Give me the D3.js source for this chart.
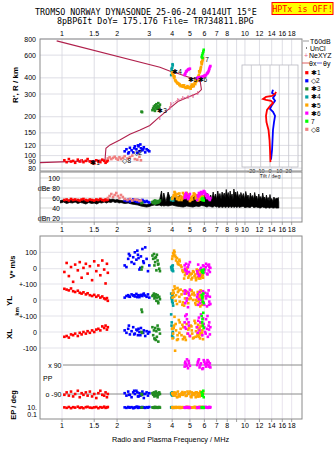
<!DOCTYPE html>
<html>
<head>
<meta charset="utf-8">
<script src="https://cdn.jsdelivr.net/npm/d3@7"></script>
<style>
body { margin: 0; background: #fff; }
text { font-family: "Liberation Sans", Arial, sans-serif; }
.mono { font-family: "DejaVu Sans Mono", monospace; }
</style>
</head>
<body>
<div id="root"></div>
<script>
// tick sets
var freqTop = [1, 1.5, 2, 3, 4, 5, 6, 7, 8, 10, 12, 14, 16, 18];
var freqMid = [1, 1.5, 2, 3, 4, 5, 6, 7, 8, 9, 10, 12, 14, 16, 18];
var freqBottom = [1, 1.5, 2, 3, 4, 5, 6, 7, 8, 10, 12, 14, 16, 18];
var heightTicks = [80, 90, 100, 120, 150, 200, 300, 400, 600, 800];
var dbTicks = [100, 80, 60, 40, 20];
var dbTickLabels = ["100", "dBe 80", "60", "40", "dBn 20"];
var tiltTicks = [-20, -10, 0, 10, 20];

// true height profile [MHz, km]
var profile = [[0.758, 88.3], [1.078, 89.8], [1.4, 91], [1.718, 92.6], [1.738, 114], [1.83, 121],
  [2.07, 132], [2.35, 146.6], [2.67, 158], [3.02, 171], [3.35, 195], [3.89, 233], [4.3, 262],
  [4.88, 283], [5.53, 305], [5.78, 325], [5.7, 372], [5.3, 392], [4.8, 410], [4.3, 432],
  [4.0, 445], [3.43, 484], [0.935, 774]];
var neXYZ = [[1.28, 91.5], [3.43, 195], [3.89, 233], [3.94, 249], [4.3, 270], [4.58, 279],
  [4.88, 286], [5.2, 290], [5.53, 305]];

// tilt inset [km, deg]
var thetaX = [[89, 0.5], [111, 0], [132, -0.5], [158, -1.6], [182, -3.8], [203, -4.3], [226, -3.2],
  [242, 0], [256, 3.2], [266, 1.1], [270, -4.3], [275, -7.5], [285, -4.3], [290, 2.2], [301, 5.4], [312, 6.5]];
var thetaY = [[93, 1.1], [111, 2.2], [132, 2.7], [158, 3.2], [182, 4.3], [203, 5.4], [218, 3.2],
  [230, 0], [247, 2.2], [266, 5.4], [280, 3.2], [295, 5.4], [306, 2.2], [323, 3.2]];

// echoes: [f MHz, R km, dB, V* m/s, YL km, XL km, PP deg, EP deg]
var echo1 = [[1.03,92,56,-20,70,-30,-95,8],[1.06,89,57,35,65,-25,-80,6],[1.09,94,55,-45,60,-35,-100,10],
  [1.12,90,58,10,72,-15,-75,5],[1.15,91,56,-80,55,-20,-105,9],[1.18,88,57,25,50,-10,-90,7],
  [1.22,93,56,-10,58,-25,-70,12],[1.25,90,55,40,45,-5,-110,6],[1.28,92,57,-55,40,-15,-85,8],
  [1.31,89,58,5,48,0,-95,5],[1.35,91,56,30,35,-10,-80,9],[1.38,94,55,-30,42,5,-100,11],
  [1.42,90,57,15,30,-5,-75,7],[1.46,88,56,-70,25,10,-105,6],[1.5,87,55,45,32,0,-90,8],
  [1.54,92,57,-15,20,15,-115,10],[1.58,90,56,20,28,20,-85,5],[1.62,89,58,-40,15,10,-70,9],
  [1.66,93,56,50,22,35,-95,7],[1.7,91,55,-5,10,25,-100,12],[1.73,88,57,-90,5,40,-80,6],
  [1.76,90,56,30,12,15,-110,8],[1.78,92,57,-25,-5,30,-90,10]];
var echo2 = [[2.2,108,55,20,15,10,-85,8],[2.25,112,54,10,25,-5,-100,6],[2.3,104,56,60,30,20,-75,10],
  [2.35,115,53,80,20,-15,-95,7],[2.4,110,55,40,35,5,-110,9],[2.45,106,57,70,28,30,-80,5],
  [2.5,118,54,100,22,-10,-90,8],[2.55,112,53,55,38,15,-70,11],[2.6,120,52,85,30,-20,-105,6],
  [2.65,108,55,-5,18,0,-85,9],[2.7,114,54,75,32,25,-95,7],[2.75,110,56,120,25,-5,-75,10],
  [2.8,116,53,35,40,10,-115,8],[2.85,106,52,130,28,-25,-90,6],[2.9,112,54,60,20,5,-80,9],
  [2.95,110,52,-15,35,-10,-100,7],[3.0,108,51,20,15,0,-85,10],[2.32,106,56,90,22,40,-95,8],
  [2.48,114,55,30,30,-15,-70,6],[2.62,118,53,65,26,20,-105,9],[2.78,112,54,45,34,-5,-90,7],
  [2.58,105,56,110,18,10,-80,11],[2.68,122,52,5,28,-20,-100,8]];
var echo3 = [[3.12,225,52,80,25,30,-85,8],[3.15,232,50,60,30,-20,-95,7],[3.18,240,54,90,40,10,-80,9],
  [3.2,228,51,20,10,-40,-105,6],[3.23,245,55,40,20,25,-90,10],[3.26,236,53,70,35,-50,-75,8],
  [3.28,250,50,-10,-5,5,-100,7],[3.3,230,52,85,15,-30,-85,9],[3.33,242,54,50,30,40,-110,6],
  [3.36,255,51,30,-20,-60,-95,8],[3.4,238,53,0,20,15,-80,10],[3.43,248,55,-15,5,-10,-90,7],
  [3.22,222,49,65,25,-45,-100,9],[3.35,234,52,25,-10,20,-85,8],[2.72,219,50,-5,-60,0,-90,7],
  [2.74,217,51,10,-75,-5,-95,8]];
var echo4 = [[3.95,420,56,10,40,110,-85,8],[3.98,450,58,-5,20,60,-95,7],[4.0,480,60,15,-10,20,-80,9],
  [4.02,510,57,0,30,-10,-100,8],[4.05,440,55,-15,-35,-35,-90,6],[3.97,470,59,5,10,40,-88,9],
  [4.03,500,61,20,-20,0,-92,7],[4.0,430,57,-10,0,-25,-96,8]];
var echo5 = [[4.0,440,58,60,40,20,-85,8],[4.05,420,62,95,60,-10,-95,6],[4.1,400,66,110,20,40,-80,9],
  [4.15,385,70,80,70,-117,-100,7],[4.2,375,64,50,30,10,-90,10],[4.3,362,68,30,50,-45,-75,8],
  [4.4,355,60,45,-10,60,-105,6],[4.5,348,56,10,35,-20,-85,9],[4.6,342,62,-20,55,30,-95,7],
  [4.7,338,66,-40,10,-35,-80,8],[4.8,336,70,-5,45,50,-100,10],[4.9,337,58,-55,-20,15,-90,6],
  [5.0,340,54,-30,25,-25,-75,9],[5.1,345,60,-65,60,35,-110,7],[5.2,352,64,-15,0,-40,-85,8],
  [5.3,362,68,-45,30,70,-95,10],[5.4,372,62,-70,-30,5,-80,6],[5.5,390,58,-25,15,-15,-100,9],
  [5.55,405,55,-50,40,45,-90,7],[5.6,420,60,-10,-15,-30,-85,8],[5.65,440,64,-35,20,25,-105,10],
  [5.7,460,57,-60,-40,-5,-75,6],[5.75,485,62,-20,5,55,-95,9],[5.8,510,66,-45,35,-20,-85,7],
  [5.85,540,59,-30,-10,10,-100,8],[5.9,570,63,-55,25,-45,-80,9],[4.12,410,72,100,85,95,-90,7],
  [4.25,368,58,65,-25,-50,-110,9],[4.45,345,63,20,65,20,-95,6],[4.65,350,67,-60,-35,-30,-85,8],
  [4.85,345,61,5,50,-10,-75,10],[5.05,330,56,-35,10,40,-105,7],[5.25,345,69,-20,45,-35,-90,9],
  [5.45,380,65,-5,-5,30,-80,6],[5.62,450,61,-40,30,-15,-100,8],[5.78,530,58,-25,55,60,-90,7],
  [4.02,430,60,75,15,-40,-88,7],[4.08,412,65,85,45,25,-98,9],[4.18,380,67,70,-5,50,-82,6],
  [4.28,364,61,40,75,-20,-108,8],[4.38,352,69,55,20,-5,-92,10],[4.55,344,59,-10,-30,45,-78,7],
  [4.75,334,63,-25,40,-50,-102,9],[4.95,334,67,-45,5,25,-86,6],[5.15,342,57,-55,35,-10,-96,8],
  [5.35,358,66,-35,-20,55,-84,10],[5.52,398,60,-15,50,-25,-106,7],[5.58,412,63,-60,-5,15,-88,9],
  [5.68,450,59,-30,25,-40,-98,6],[5.72,472,65,-50,60,35,-82,8],[5.82,520,61,-15,-30,-5,-94,10],
  [5.88,555,57,-40,10,40,-86,7],[4.35,360,56,25,60,75,-100,8],[4.58,350,70,-15,-15,-45,-90,9],
  [5.12,355,62,-30,55,10,-80,7],[5.38,380,59,-55,0,-30,-110,8]];
var echo6 = [[4.68,421,60,20,40,60,80,8],[4.72,432,66,-10,-20,100,110,6],[4.76,446,70,30,55,20,95,9],
  [4.82,455,62,-30,10,80,125,7],[4.88,462,58,10,-45,-10,70,8],[4.94,468,64,-20,30,40,100,10],
  [5.0,471,68,40,65,-25,85,6],[5.48,398,56,-15,20,30,90,8],[5.55,402,62,25,-30,70,115,7],
  [5.65,404,66,-40,50,10,75,9],[5.75,406,72,5,0,110,100,8],[5.85,408,68,-25,35,-20,65,6],
  [5.95,412,74,15,-15,50,120,10],[6.05,418,70,-5,45,0,95,7],[6.13,421,64,30,10,80,80,9],
  [6.2,432,60,-30,-40,20,105,8],[6.27,440,66,20,25,-30,90,6],[6.33,450,62,-10,60,40,110,8],
  [6.38,471,58,10,-10,60,85,10],[6.43,485,56,-20,20,-15,100,7],[6.47,494,60,5,-25,30,75,9],
  [5.6,403,70,-45,5,90,125,8],[4.7,426,63,0,60,30,100,7],[4.8,450,67,-15,-5,110,85,9],
  [4.92,466,61,25,45,60,115,8],[5.52,400,65,-30,35,-5,105,6],[5.7,405,69,-5,-20,60,90,9],
  [5.9,410,71,20,55,85,70,7],[6.0,415,73,-20,-30,30,110,8],[6.1,420,67,10,25,-10,95,10],
  [6.24,436,63,-35,40,100,120,7],[6.36,460,59,25,-30,15,80,9]];
var echo7 = [[5.8,580,58,-10,30,100,-80,8],[5.84,600,56,-20,10,60,-100,7],[5.88,620,60,-15,-10,40,-90,9],
  [5.92,640,57,-25,40,120,-70,8],[5.95,660,55,-5,-20,25,-110,6],[5.86,570,59,-18,20,80,-95,8]];
// echo 8: [f, R, dB] only
var echo8 = [[1.78,95,60],[1.82,97,64],[1.86,94,68],[1.9,96,62],[1.94,98,66],[1.98,95,70],[2.02,93,64],
  [2.06,97,60],[2.1,94,66],[2.15,96,62],[2.2,99,58],[2.28,95,56],[2.35,97,58],[2.42,100,55],
  [2.5,94,57],[2.58,93,56],[2.65,98,54],[2.7,92,55]];

// echo centroid labels [text, f, R]
var echoMarks = [["\u27311", 1.515, 87.8], ["\u25C72", 2.6, 105], ["\u27313", 3.52, 222], ["\u27314", 4.25, 449],
  ["\u27315", 5.16, 389], ["\u27316", 5.85, 389], ["7", 6.2, 558], ["\u25C78", 2.26, 91]];

// received amplitude [f, low dB, high dB]
var amplitude = [[0.98,50,55],[1.02,52,56],[1.06,49,54],[1.1,51,56],[1.14,50,55],[1.18,52,57],[1.22,49,54],
  [1.26,51,55],[1.3,50,56],[1.35,48,54],[1.4,51,56],[1.45,49,55],[1.5,50,54],[1.55,48,55],[1.6,51,56],
  [1.65,50,54],[1.7,52,57],[1.75,50,56],[1.8,52,58],[1.85,51,57],[1.9,53,58],[1.95,51,56],[2.0,52,57],
  [2.05,50,56],[2.1,51,55],[2.2,49,54],[2.3,50,55],[2.4,48,53],[2.5,47,53],[2.6,46,52],[2.7,44,50],
  [2.8,43,48],[2.9,42,47],[3.0,43,48],[3.1,45,50],[3.2,46,51],[3.3,45,52],[3.4,46,53],[3.5,44,74],
  [3.55,45,52],[3.6,44,70],[3.7,45,52],[3.8,44,72],[3.9,45,60],[4.0,46,62],[4.2,44,60],[4.4,43,65],
  [4.6,42,62],[4.8,44,66],[5.0,43,60],[5.2,42,64],[5.4,44,62],[5.6,43,65],[5.8,45,63],[6.0,44,66],
  [6.2,42,70],[6.35,44,58],[6.5,43,66],[6.6,42,56],[6.7,42,72],[6.8,44,60],[6.9,43,68],[7.0,42,57],
  [7.1,43,74],[7.2,41,62],[7.3,42,69],[7.4,43,58],[7.5,41,72],[7.6,42,63],[7.7,43,70],[7.8,41,60],
  [7.9,42,77],[8.0,43,64],[8.1,41,71],[8.2,42,59],[8.3,43,74],[8.4,41,62],[8.5,42,68],[8.6,43,57],
  [8.7,41,78],[8.8,42,66],[8.9,43,72],[9.0,41,61],[9.1,42,73],[9.2,43,60],[9.3,41,67],[9.4,42,58],
  [9.5,42,71],[9.65,43,62],[9.8,43,69],[9.95,41,58],[10.1,41,73],[10.25,42,62],[10.4,42,66],[10.55,41,56],
  [10.7,41,70],[10.85,43,61],[11.0,43,65],[11.15,41,57],[11.3,41,71],[11.45,42,60],[11.6,42,64],
  [11.75,41,55],[11.9,41,68],[12.05,40,58],[12.2,40,63],[12.35,42,56],[12.5,42,70],[12.65,41,60],
  [12.8,41,62],[12.95,40,55],[13.1,40,66],[13.25,41,57],[13.4,41,61],[13.55,40,54],[13.7,40,67],
  [13.85,41,56],[14.0,41,59],[14.2,40,53],[14.4,40,62],[14.6,41,56],[14.8,40,60],[15.0,40,58],
  [15.2,40,61],[15.3,40,52]];

var echoTypes = [
  {data: echo1, color: "#ff0000", label: "\u27311"},
  {data: echo2, color: "#0000ff", label: "\u25C72"},
  {data: echo3, color: "#228b22", label: "\u27313"},
  {data: echo4, color: "#00a0a0", label: "\u27314"},
  {data: echo5, color: "#ffa500", label: "\u27315"},
  {data: echo6, color: "#ff00ff", label: "\u27316"},
  {data: echo7, color: "#00ff00", label: " 7"},
  {data: echo8, color: "#f08080", label: "\u25C78"}
];

var svg = d3.select("#root").append("svg")
    .attr("width", 335)
    .attr("height", 451);

var L = 40, R = 302;
var x = d3.scaleLog().domain([0.758, 20.5]).range([L, R]);
var yH = d3.scaleLog().domain([76, 800]).range([171, 39]);
var yDB = d3.scaleLinear().domain([12, 112]).range([222, 172]);
var yV = d3.scaleLinear().domain([-100, 100]).range([285.1, 252.3]);
var yYL = d3.scaleLinear().domain([-100, 100]).range([316, 284]);
var yXL = d3.scaleLinear().domain([-100, 100]).range([348, 316]);
var yPP = d3.scaleLinear().domain([-90, 90]).range([394, 365]);
var yEP = d3.scaleLog().domain([0.1, 10]).range([414.7, 407]);
var xT = d3.scaleLinear().domain([-30, 30]).range([242, 298]);

var gridCol = "#d6d6de", frameCol = "#8a8a8a";
var dot = 2.6;

// ---------- header ----------
svg.append("text").attr("class", "mono").attr("x", 35).attr("y", 15)
    .attr("font-size", 8.4).text("TROMSO NORWAY   DYNASONDE 25-06-24 0414UT 15\u00B0E");
svg.append("text").attr("class", "mono").attr("x", 57).attr("y", 23.5)
    .attr("font-size", 8.4).text("8pBP6It DoY= 175.176 File= TR734811.BPG");
svg.append("rect").attr("x", 272).attr("y", 2.5).attr("width", 61).attr("height", 12)
    .attr("fill", "#ffff00").attr("stroke", "#ff0000").attr("stroke-width", 1);
svg.append("text").attr("class", "mono").attr("x", 302.5).attr("y", 11.8)
    .attr("text-anchor", "middle").attr("fill", "#ff0000").attr("font-size", 8.4).text("HPTx is OFF!");

// ---------- frequency labels ----------
function freqLabels(ticks, yy) {
    svg.append("g").selectAll("text").data(ticks).enter().append("text")
        .attr("x", function(d) { return x(d); })
        .attr("y", yy)
        .attr("text-anchor", "middle")
        .attr("dominant-baseline", "central")
        .attr("font-size", 7)
        .text(function(d) { return d; });
}
freqLabels(freqTop, 33);
freqLabels(freqMid, 229);
freqLabels(freqBottom, 425.5);
svg.append("text").attr("x", 170.5).attr("y", 439).attr("text-anchor", "middle")
    .attr("dominant-baseline", "central").attr("font-size", 7.3)
    .text("Radio and Plasma Frequency / MHz");

function vGrid(y0, y1, col) {
    svg.append("g").selectAll("line").data(freqMid).enter().append("line")
        .attr("x1", function(d) { return x(d); }).attr("x2", function(d) { return x(d); })
        .attr("y1", y0).attr("y2", y1)
        .attr("stroke", col).attr("stroke-width", 0.8);
}
function freqTicks(yy, dir) {
    svg.append("g").selectAll("line").data(freqMid).enter().append("line")
        .attr("x1", function(d) { return x(d); }).attr("x2", function(d) { return x(d); })
        .attr("y1", yy).attr("y2", yy + dir * 3)
        .attr("stroke", frameCol).attr("stroke-width", 0.8);
}
function dots(data, col, yScale, colour) {
    svg.append("g").selectAll("rect").data(data).enter().append("rect")
        .attr("x", function(d) { return x(d[0]) - dot / 2; })
        .attr("y", function(d) { return yScale(d[col]) - dot / 2; })
        .attr("width", dot).attr("height", dot)
        .attr("fill", colour);
}

// ---------- height panel ----------
vGrid(39, 171, gridCol);
svg.append("g").selectAll("line").data(heightTicks).enter().append("line")
    .attr("x1", L).attr("x2", R)
    .attr("y1", function(d) { return yH(d); }).attr("y2", function(d) { return yH(d); })
    .attr("stroke", gridCol).attr("stroke-width", 0.8);
svg.append("g").selectAll("text").data(heightTicks).enter().append("text")
    .attr("x", 36).attr("y", function(d) { return yH(d); })
    .attr("text-anchor", "end").attr("dominant-baseline", "central")
    .attr("font-size", 7).text(function(d) { return d; });
svg.append("text").attr("transform", "translate(15,85) rotate(-90)")
    .attr("text-anchor", "middle").attr("dominant-baseline", "central")
    .attr("font-size", 8).attr("font-weight", "bold").text("R', R / km");

// tilt inset
svg.append("rect").attr("x", 242).attr("y", 65).attr("width", 56).attr("height", 102)
    .attr("fill", "#fff").attr("stroke", "#b8b8c0").attr("stroke-width", 0.8);
svg.append("g").selectAll("line").data(heightTicks.filter(function(d) { return yH(d) > 65 && yH(d) < 167; }))
    .enter().append("line")
    .attr("x1", 242).attr("x2", 298)
    .attr("y1", function(d) { return yH(d); }).attr("y2", function(d) { return yH(d); })
    .attr("stroke", gridCol).attr("stroke-width", 0.8);
svg.append("g").selectAll("line").data(tiltTicks).enter().append("line")
    .attr("x1", function(d) { return xT(d); }).attr("x2", function(d) { return xT(d); })
    .attr("y1", 65).attr("y2", 167)
    .attr("stroke", "#c4c4cc").attr("stroke-width", 0.8);
svg.append("g").selectAll("text").data(tiltTicks).enter().append("text")
    .attr("x", function(d) { return xT(d); }).attr("y", 170.5)
    .attr("text-anchor", "middle").attr("dominant-baseline", "central")
    .attr("font-size", 5.5).text(function(d) { return d; });
svg.append("text").attr("x", 270).attr("y", 175.5).attr("text-anchor", "middle")
    .attr("dominant-baseline", "central").attr("font-size", 5.5).text("Tilt / deg");

var tiltLine = d3.line()
    .x(function(d) { return xT(d[1]); })
    .y(function(d) { return yH(d[0]); });
svg.append("path").datum(thetaY).attr("d", tiltLine)
    .attr("fill", "none").attr("stroke", "#0000ff").attr("stroke-width", 1.8);
svg.append("path").datum(thetaX).attr("d", tiltLine)
    .attr("fill", "none").attr("stroke", "#ff0000").attr("stroke-width", 1.8);

svg.append("rect").attr("x", L).attr("y", 39).attr("width", R - L).attr("height", 132)
    .attr("fill", "none").attr("stroke", frameCol).attr("stroke-width", 1);

// profile
var profLine = d3.line()
    .x(function(d) { return x(d[0]); })
    .y(function(d) { return yH(d[1]); });
svg.append("path").datum(profile).attr("d", profLine)
    .attr("fill", "none").attr("stroke", "#b0204c").attr("stroke-width", 1.1);

// echoes in height panel
echoTypes.forEach(function(t) { dots(t.data, 1, yH, t.color); });

// NeXYZ
svg.append("path").datum(neXYZ.slice(2)).attr("d", profLine)
    .attr("fill", "none").attr("stroke", "#e0608c").attr("stroke-width", 0.9)
    .attr("stroke-dasharray", "2,1");
svg.append("g").selectAll("text").data(neXYZ).enter().append("text")
    .attr("x", function(d) { return x(d[0]); })
    .attr("y", function(d) { return yH(d[1]); })
    .attr("text-anchor", "middle").attr("dominant-baseline", "central")
    .attr("font-size", 6).attr("fill", "#e0608c").attr("font-weight", "bold")
    .text("I");

svg.append("g").selectAll("text").data(echoMarks).enter().append("text")
    .attr("x", function(d) { return x(d[1]); })
    .attr("y", function(d) { return yH(d[2]); })
    .attr("text-anchor", "middle").attr("dominant-baseline", "central")
    .attr("font-size", 6.5).attr("font-family", "DejaVu Sans")
    .text(function(d) { return d[0]; });

// legend
var lg = svg.append("g").attr("font-size", 7);
lg.append("line").attr("x1", 303).attr("x2", 309).attr("y1", 41).attr("y2", 41).attr("stroke", "#999");
lg.append("text").attr("x", 310).attr("y", 41).attr("dominant-baseline", "central").text("T60dB");
lg.append("rect").attr("x", 306).attr("y", 47.5).attr("width", 1).attr("height", 1).attr("fill", "#000");
lg.append("text").attr("x", 310).attr("y", 48).attr("dominant-baseline", "central").text("UnCl");
lg.append("text").attr("x", 306).attr("y", 55).attr("text-anchor", "middle").attr("dominant-baseline", "central")
    .attr("fill", "#e0608c").text("+");
lg.append("text").attr("x", 309).attr("y", 55).attr("dominant-baseline", "central").text("NeXYZ");
lg.append("line").attr("x1", 302).attr("x2", 309).attr("y1", 63).attr("y2", 63).attr("stroke", "#e06060");
lg.append("text").attr("x", 309).attr("y", 63).attr("dominant-baseline", "central").text("\u03B8x");
lg.append("line").attr("x1", 317).attr("x2", 322).attr("y1", 63).attr("y2", 63).attr("stroke", "#6060e0");
lg.append("text").attr("x", 323).attr("y", 63).attr("dominant-baseline", "central").text("\u03B8y");
var legendY = d3.scaleLinear().domain([0, 7]).range([72.7, 129.3]);
echoTypes.forEach(function(t, i) {
    lg.append("rect").attr("x", 305.2).attr("y", legendY(i) - 1.6).attr("width", 3.2).attr("height", 3.2)
        .attr("fill", t.color);
    lg.append("text").attr("x", 311).attr("y", legendY(i)).attr("dominant-baseline", "central")
        .attr("font-family", "DejaVu Sans").attr("font-size", 6.5).text(t.label);
});

// ---------- dB panel ----------
vGrid(172, 222, gridCol);
svg.append("g").selectAll("line").data(dbTicks).enter().append("line")
    .attr("x1", L).attr("x2", R)
    .attr("y1", function(d) { return yDB(d); }).attr("y2", function(d) { return yDB(d); })
    .attr("stroke", function(d) { return d == 20 ? "#c8c8e8" : "#c8c8c8"; }).attr("stroke-width", 0.8);
svg.append("g").selectAll("text").data(dbTicks).enter().append("text")
    .attr("x", 60).attr("y", function(d) { return yDB(d); })
    .attr("text-anchor", "end").attr("dominant-baseline", "central")
    .attr("font-size", 7).text(function(d, i) { return dbTickLabels[i]; });

var ampArea = d3.area()
    .x(function(d) { return x(d[0]); })
    .y0(function(d) { return yDB(d[1]); })
    .y1(function(d) { return yDB(d[2]); });
svg.append("path").datum(amplitude).attr("d", ampArea)
    .attr("fill", "#000").attr("stroke", "#000").attr("stroke-width", 0.8);

echoTypes.forEach(function(t) { dots(t.data, 2, yDB, t.color); });
svg.append("rect").attr("x", L).attr("y", 172).attr("width", R - L).attr("height", 50)
    .attr("fill", "none").attr("stroke", frameCol).attr("stroke-width", 1);
freqTicks(222, 1);

// ---------- lower panel ----------
vGrid(236, 419, "#e2dcea");
var lowerLines = [yV(100), yV(0), yYL(100), yYL(0), yXL(100), yXL(0), yXL(-100)];
svg.append("g").selectAll("line").data(lowerLines).enter().append("line")
    .attr("x1", L).attr("x2", R)
    .attr("y1", function(d) { return d; }).attr("y2", function(d) { return d; })
    .attr("stroke", "#dcdce4").attr("stroke-width", 0.8);
svg.append("g").selectAll("line").data([yPP(90), yPP(-90)]).enter().append("line")
    .attr("x1", 63).attr("x2", R)
    .attr("y1", function(d) { return d; }).attr("y2", function(d) { return d; })
    .attr("stroke", "#8a8a8a").attr("stroke-width", 1);

var leftLabels = [["100", yV(100)], ["0", yV(0)], ["+-100", yYL(100)], ["0", yYL(0)],
    ["+-100", yXL(100)], ["0", yXL(0)], ["-100", yXL(-100)], ["10.", yEP(10)], ["0.1", yEP(0.1)]];
svg.append("g").selectAll("text").data(leftLabels).enter().append("text")
    .attr("x", 37).attr("y", function(d) { return d[1]; })
    .attr("text-anchor", "end").attr("dominant-baseline", "central")
    .attr("font-size", 7).text(function(d) { return d[0]; });
svg.append("text").attr("x", 61.5).attr("y", yPP(90)).attr("text-anchor", "end")
    .attr("dominant-baseline", "central").attr("font-size", 7).text("x 90");
svg.append("text").attr("x", 61.5).attr("y", yPP(-90)).attr("text-anchor", "end")
    .attr("dominant-baseline", "central").attr("font-size", 7).text("o -90");
svg.append("text").attr("x", 43).attr("y", 378).attr("dominant-baseline", "central")
    .attr("font-size", 7).text("PP");

function rotLabel(tx, ty, txt, size) {
    svg.append("text").attr("transform", "translate(" + tx + "," + ty + ") rotate(-90)")
        .attr("text-anchor", "middle").attr("dominant-baseline", "central")
        .attr("font-size", size).attr("font-weight", "bold").text(txt);
}
rotLabel(12, 267, "V* m/s", 7.5);
rotLabel(9, 301, "YL", 8);
rotLabel(17, 311.5, "km", 6);
rotLabel(9, 334, "XL", 8);
rotLabel(13, 405, "EP / deg", 7.5);

var lowerCols = [[3, yV], [4, yYL], [5, yXL], [6, yPP], [7, yEP]];
echoTypes.forEach(function(t) {
    if (t.data[0].length < 8) return;
    lowerCols.forEach(function(c) { dots(t.data, c[0], c[1], t.color); });
});

svg.append("rect").attr("x", L).attr("y", 236).attr("width", R - L).attr("height", 183)
    .attr("fill", "none").attr("stroke", frameCol).attr("stroke-width", 1);
freqTicks(419, 1);
</script>
</body>
</html>
